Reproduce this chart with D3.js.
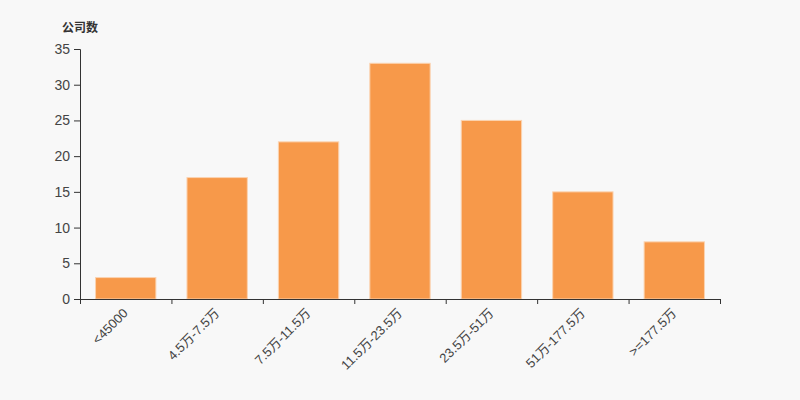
<!DOCTYPE html>
<html><head><meta charset="utf-8">
<script src="https://cdn.jsdelivr.net/npm/d3@7"></script>
<style>body{margin:0;background:#f8f8f8;}svg{display:block;}</style>
</head><body><svg id="c" width="800" height="400"></svg>
<script>
const categories = ["<45000","4.5万-7.5万","7.5万-11.5万","11.5万-23.5万","23.5万-51万","51万-177.5万",">=177.5万"];
const values = [3,17,22,33,25,15,8];
const yTicks = [0,5,10,15,20,25,30,35];
const yTitle = "公司数";

const svg = d3.select("#c");
svg.append("rect").attr("width",800).attr("height",400).attr("fill","#f8f8f8");
const m = {l:80, r:80, t:49, b:101};
const x = d3.scaleBand().domain(categories).range([m.l, 800-m.r]).paddingInner(0.34).paddingOuter(0.17);
const y = d3.scaleLinear().domain([0,35]).range([400-m.b, m.t]);
const font = "'Liberation Sans',Arial,'Noto Sans CJK SC',sans-serif";

svg.append("g").selectAll("rect").data(values).join("rect")
  .attr("x",(d,i)=>x(categories[i]))
  .attr("y",d=>y(d))
  .attr("width",x.bandwidth())
  .attr("height",d=>y(0)-y(d))
  .attr("fill","#f7994a")
  .attr("stroke","#fbd3b0").attr("stroke-width",1);

const xAxisScale = d3.scaleLinear().domain([0,categories.length]).range([m.l,800-m.r]);
const gx = svg.append("g").attr("transform",`translate(0,${y(0)})`)
  .call(d3.axisBottom(xAxisScale).tickValues(d3.range(categories.length+1)).tickSize(5).tickFormat(""));
gx.select(".domain").attr("stroke","#333");
gx.selectAll(".tick line").attr("stroke","#333");
svg.append("g").selectAll("text").data(categories).join("text")
  .attr("transform",(d)=>`translate(${x(d)+x.bandwidth()/2+3},${y(0)+15}) rotate(-45)`)
  .attr("text-anchor","end")
  .attr("font-family",font).attr("font-size",13).attr("fill","#444")
  .text(d=>d);

const gy = svg.append("g").attr("transform",`translate(${m.l},0)`)
  .call(d3.axisLeft(y).tickValues(yTicks).tickSize(6).tickPadding(4));
gy.select(".domain").attr("stroke","#333");
gy.selectAll(".tick line").attr("stroke","#333");
gy.selectAll(".tick text").attr("font-family",font).attr("font-size",14).attr("fill","#444");

svg.append("text").attr("x",62).attr("y",32).attr("font-family","'Noto Sans CJK SC',sans-serif")
  .attr("font-size",12).attr("font-weight","bold").attr("fill","#333").text(yTitle);
</script></body></html>
